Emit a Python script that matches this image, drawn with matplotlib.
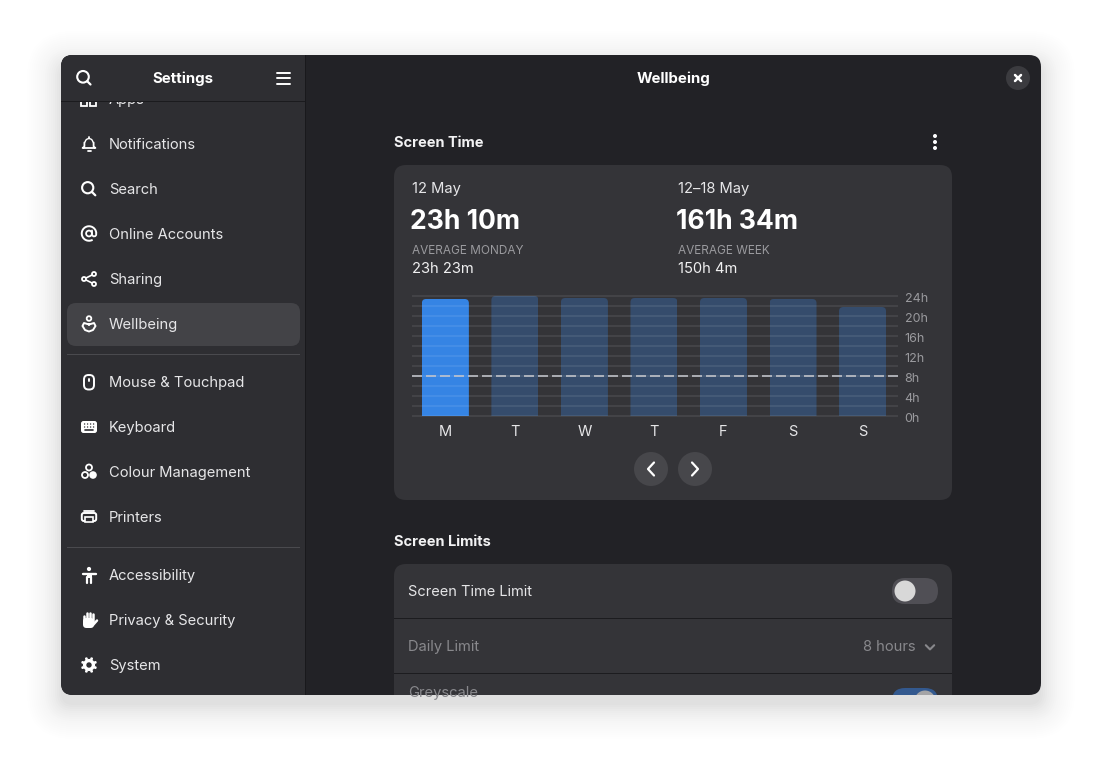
import math

import matplotlib
matplotlib.use('Agg')
import matplotlib.pyplot as plt
from matplotlib.patches import FancyBboxPatch, Circle, Rectangle, Wedge, Arc
from matplotlib.transforms import ScaledTranslation

plt.rcParams['font.family'] = ['Inter', 'DejaVu Sans']

days = ['M', 'T', 'W', 'T', 'F', 'S', 'S']
hours = [23.4, 24.0, 23.6, 23.6, 23.6, 23.4, 21.8]
hour_ticks = [0, 4, 8, 12, 16, 20, 24]
hour_labels = ['0h', '4h', '8h', '12h', '16h', '20h', '24h']
limit_hours = 8

menu_items = ['Apps', 'Notifications', 'Search', 'Online Accounts', 'Sharing', 'Wellbeing',
              'Mouse & Touchpad', 'Keyboard', 'Colour Management', 'Printers',
              'Accessibility', 'Privacy & Security', 'System']
menu_baselines = [104, 149, 194, 239, 284, 329, 387, 432, 477, 522, 580, 625, 670]

SIDEBAR = '#2e2e32'
MAIN = '#222226'
CARD = '#343438'
WHITE = '#ffffff'
TEXT = '#e6e6e8'
GREY = '#9a9a9e'

fig = plt.figure(figsize=(11.02, 7.62), dpi=100, facecolor='white')
ui = fig.add_axes([0, 0, 1, 1])
ui.set_xlim(0, 1102)
ui.set_ylim(762, 0)
ui.axis('off')


def rrect(x, y, w, h, r, color, z=2, alpha=None, clip=True):
    p = FancyBboxPatch((x, y), w, h, boxstyle='round,pad=0,rounding_size=%s' % r,
                       fc=color, ec='none', zorder=z, alpha=alpha)
    ui.add_patch(p)
    if clip:
        p.set_clip_path(window)
    return p


def label(x, y, s, size=10.6, color=TEXT, weight='normal', ha='left', z=5):
    t = ui.text(x, y, s, fontsize=size, color=color, fontweight=weight, ha=ha, va='baseline', zorder=z)
    t.set_clip_path(window)
    return t


def stroke(xs, ys, color=WHITE, lw=1.5, z=6):
    ui.plot(xs, ys, color=color, lw=lw, zorder=z, solid_capstyle='round', solid_joinstyle='round')


def ring(cx, cy, r, lw=1.5, color=WHITE, z=6):
    ui.add_patch(Circle((cx, cy), r, fc='none', ec=color, lw=lw, zorder=z))


def dot(cx, cy, r, color=WHITE, z=6):
    ui.add_patch(Circle((cx, cy), r, fc=color, ec='none', zorder=z))


def search_icon(cx, cy):
    ring(cx - 0.8, cy - 0.8, 5.6, lw=1.5)
    stroke([cx + 3.4, cx + 6.8], [cy + 3.4, cy + 6.8], lw=1.6)


# shadow around the window, dropped a little and fading outwards
n_shadow = 22
for i in range(n_shadow):
    spread = i * 2
    rrect(61 - spread, 55 - spread + 10, 980 + spread * 2, 640 + spread * 2, 12 + spread, '#000000',
          z=0.5, alpha=0.0015 + 0.012 * ((n_shadow - i) / n_shadow) ** 2, clip=False)

window = FancyBboxPatch((61, 55), 980, 640, boxstyle='round,pad=0,rounding_size=12',
                        fc=MAIN, ec='none', zorder=1)
ui.add_patch(window)

# sidebar
ui.add_patch(Rectangle((61, 55), 244, 640, fc=SIDEBAR, ec='none', zorder=1.5, clip_path=window))
ui.add_patch(Rectangle((305, 55), 1, 640, fc='#19191c', ec='none', zorder=1.6, clip_path=window))
rrect(67, 303, 233, 43, 9, '#434347', z=2)
ui.add_patch(Rectangle((67, 354), 233, 1, fc='#4a4a4e', ec='none', zorder=2))
ui.add_patch(Rectangle((67, 547), 233, 1, fc='#4a4a4e', ec='none', zorder=2))

for name, base in zip(menu_items, menu_baselines):
    label(109, base, name)

# sidebar header sits over the scrolled Apps row
ui.add_patch(Rectangle((61, 55), 244, 46, fc=SIDEBAR, ec='none', zorder=7, clip_path=window))
ui.add_patch(Rectangle((61, 101), 244, 1, fc='#1b1b1e', ec='none', zorder=7))
label(183, 83, 'Settings', size=10.8, weight='bold', color=WHITE, ha='center', z=8)
ring(83, 76.8, 5.8, lw=1.5, z=8)
stroke([87.3, 90.5], [81.3, 84.5], lw=1.6, z=8)
for y in [72.5, 78, 83.5]:
    stroke([276.5, 289.5], [y, y], lw=1.4, z=8)

# Apps icon stub
ui.add_patch(Rectangle((81, 101), 6, 5, fc='none', ec=WHITE, lw=1.3, zorder=6))
ui.add_patch(Rectangle((90, 101), 6, 5, fc='none', ec=WHITE, lw=1.3, zorder=6))

# notifications
ui.add_patch(Wedge((89, 142.5), 4.6, 180, 360, width=1.4, fc=WHITE, ec='none', zorder=6))
stroke([84.4, 84.4, 82.6, 95.4, 93.6, 93.6], [142.5, 146.5, 148, 148, 146.5, 142.5], lw=1.3)
stroke([87.5, 90.5], [151, 151], lw=1.3)
stroke([89, 89], [136.5, 137.5], lw=1.3)
search_icon(88.5, 188.5)
# online accounts
ui.add_patch(Arc((89, 233.5), 14.5, 14.5, theta1=60, theta2=360, ec=WHITE, lw=1.4, zorder=6))
ring(89, 233.5, 2.9, lw=1.3)
stroke([92, 92, 93.4, 95.2, 96.2, 96.2], [230.5, 235, 236.4, 236.2, 235, 233.5], lw=1.3)
# sharing
for cx, cy in [(84, 279), (94, 274), (94, 284)]:
    ring(cx, cy, 2, lw=1.3)
stroke([86, 92], [278, 275], lw=1.2)
stroke([86, 92], [280, 283], lw=1.2)
# wellbeing
ring(89, 318.5, 2.3, lw=1.3)
ui.plot([89, 84, 82.5, 85, 89, 93, 95.5, 94, 89],
        [324.5, 323, 326, 330, 331.5, 330, 326, 323, 324.5],
        color=WHITE, lw=1.4, zorder=6)
# mouse
ui.add_patch(FancyBboxPatch((84, 375), 10, 14.5, boxstyle='round,pad=0,rounding_size=4.5',
                            fc='none', ec=WHITE, lw=1.4, zorder=6))
stroke([89, 89], [378.5, 381], lw=1.4)
# keyboard
rrect(81, 421, 16, 12, 2.5, WHITE, z=6)
for y in [424, 427]:
    for x in [84, 87, 90, 93]:
        dot(x + 0.6, y, 0.7, color=SIDEBAR, z=7)
stroke([85, 93], [430, 430], color=SIDEBAR, lw=1.2, z=7)
# colour management
ring(89, 467.5, 3, lw=1.3)
ring(85, 475, 3, lw=1.3)
dot(93, 475, 3.8)
# printers
stroke([84, 94], [510.5, 510.5], lw=1.3)
ui.add_patch(FancyBboxPatch((81.8, 513), 14.4, 8, boxstyle='round,pad=0,rounding_size=2',
                            fc='none', ec=WHITE, lw=1.4, zorder=6))
ui.add_patch(Rectangle((85, 517), 8, 5.2, fc=SIDEBAR, ec=WHITE, lw=1.2, zorder=7))
# accessibility
dot(89, 569, 2.1)
ui.add_patch(Rectangle((86.5, 572.5), 5, 5.5, fc=WHITE, ec='none', zorder=6))
stroke([82.5, 95.5], [573.5, 573.5], lw=1.7)
stroke([87.2, 87.2], [577, 582.5], lw=1.6)
stroke([90.8, 90.8], [577, 582.5], lw=1.6)
# privacy
rrect(83, 618, 11, 10, 3.5, WHITE, z=6)
for x, top in [(84, 616), (87, 613), (90, 612.5), (93, 614)]:
    stroke([x, x], [top, 622], lw=1.8)
stroke([93, 97], [625, 620.5], lw=1.8)
# system
ring(89, 665, 4.4, lw=2.4)
for k in range(8):
    a = math.radians(22.5 + 45 * k)
    dot(89 + 6.8 * math.cos(a), 665 + 6.8 * math.sin(a), 1.4)

# main header
label(673.5, 83, 'Wellbeing', size=10.8, weight='bold', color=WHITE, ha='center')
dot(1018, 78, 12, color='#3b3b3f')
stroke([1015, 1021], [75, 81], lw=1.8)
stroke([1015, 1021], [81, 75], lw=1.8)

# screen time section
label(394, 147, 'Screen Time', size=10.5, weight='bold', color='#f2f2f3')
for y in [136, 142, 148]:
    dot(935, y, 2)
rrect(394, 165, 558, 335, 12, CARD)

label(412, 193, '12 May')
label(678, 193, '12\u201318 May')
label(410, 229, '23h 10m', size=19.1, weight='bold', color=WHITE)
label(676, 229, '161h 34m', size=19.1, weight='bold', color=WHITE)
label(412, 254, 'AVERAGE MONDAY', size=8.5, color=GREY)
label(678, 254, 'AVERAGE WEEK', size=8.5, color=GREY)
label(412, 273, '23h 23m', color='#f0f0f1')
label(678, 273, '150h 4m', color='#f0f0f1')

# week navigation
dot(651, 469, 17, color='#47474b')
dot(695, 469, 17, color='#47474b')
stroke([654, 648, 654], [462.5, 469, 475.5], lw=1.6)
stroke([692, 698, 692], [462.5, 469, 475.5], lw=1.6)

# screen limits section
label(394, 546, 'Screen Limits', size=10.5, weight='bold', color='#f2f2f3')
rrect(394, 564, 558, 160, 12, CARD)
ui.add_patch(Rectangle((394, 618), 558, 1, fc='#1c1c1f', ec='none', zorder=3))
ui.add_patch(Rectangle((394, 673), 558, 1, fc='#1c1c1f', ec='none', zorder=3))
label(408, 596, 'Screen Time Limit', size=10.5)
label(408, 651, 'Daily Limit', color='#88888c')
label(916, 651, '8 hours', color='#88888c', ha='right')
stroke([925.8, 930, 934.2], [645.2, 649.4, 645.2], color='#88888c', lw=1.5)
label(408, 697, 'Greyscale', color='#88888c')
rrect(892, 578, 46, 26, 13, '#504f55', z=3)
dot(905, 591, 10.5, color='#d8d8d8')
rrect(892, 688, 46, 26, 13, '#33598f', z=3)
knob = Circle((925, 701), 10.5, fc='#a4a4a6', ec='none', zorder=6)
ui.add_patch(knob)
knob.set_clip_path(window)

# bar chart, 5 px per hour, 69.5 px per day
ax = fig.add_axes([412 / 1102, 1 - 417 / 762, 486 / 1102, 122 / 762], facecolor='none')
ax.set_xlim(-0.48, 6.51)
ax.set_ylim(-0.2, 24.2)
xpos = list(range(len(days)))
bar_w = 0.676
bars = ax.bar(xpos, hours, width=bar_w, color='#354c6c', zorder=1)
bars[0].set_facecolor('#3584e4')
for b, x, h in zip(bars, xpos, hours):
    shape = FancyBboxPatch((x - bar_w / 2, -4), bar_w, h + 4,
                           boxstyle='round,pad=0,rounding_size=0.06', mutation_aspect=13.9,
                           transform=ax.transData, fc='none', ec='none')
    b.set_clip_path(shape)

ax.set_xticks(xpos)
ax.set_xticklabels(days, fontsize=10.5, color=TEXT)
ax.set_yticks(hour_ticks)
ax.set_yticks([t + 2 for t in hour_ticks[:-1]], minor=True)
ax.set_yticklabels(hour_labels, fontsize=9.0, color=GREY, va='center')
ax.yaxis.tick_right()
ax.tick_params(axis='x', length=0, pad=6)
ax.tick_params(axis='y', which='both', length=0, pad=4.8)
# hour labels sit a little under their gridlines
nudge = ScaledTranslation(0, -3 / 100, fig.dpi_scale_trans)
for lab in ax.get_yticklabels():
    lab.set_transform(lab.get_transform() + nudge)
ax.set_axisbelow(False)
ax.grid(axis='y', which='both', color='#ffffff', alpha=0.08, lw=1.44)
ax.axhline(limit_hours, color='#c4c6cc', alpha=0.8, lw=1.44, dashes=(5, 2), zorder=3)
for s in ax.spines.values():
    s.set_visible(False)

fig.savefig('out.png', dpi=100, facecolor='white')
